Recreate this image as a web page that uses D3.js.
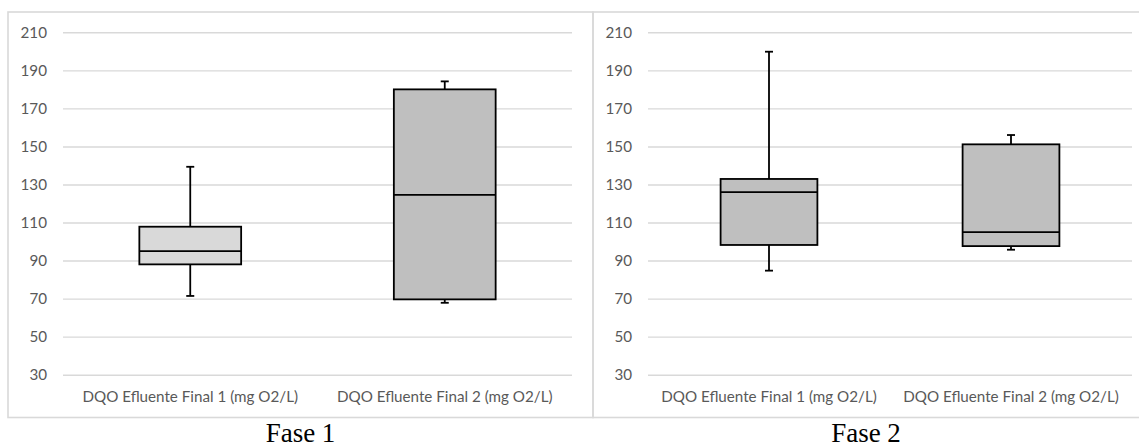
<!DOCTYPE html>
<html>
<head>
<meta charset="utf-8">
<script src="https://cdn.jsdelivr.net/npm/d3@7"></script>
<style>
  html, body { margin: 0; padding: 0; background: #fff; }
  svg { display: block; }
</style>
</head>
<body>
<svg id="chart" width="1139" height="447"></svg>
<script>
// ---- data ----
const categories = ["DQO Efluente Final 1 (mg O2/L)", "DQO Efluente Final 2 (mg O2/L)"];
const panelTitles = ["Fase 1", "Fase 2"];
const yTicks = [30, 50, 70, 90, 110, 130, 150, 170, 190, 210];

const fase1Min    = [71.4, 67.8];
const fase1Q1     = [88.0, 69.6];
const fase1Median = [95.0, 124.5];
const fase1Q3     = [107.8, 180.0];
const fase1Max    = [139.3, 184.2];

const fase2Min    = [84.7, 95.7];
const fase2Q1     = [98.2, 97.6];
const fase2Median = [126.0, 105.0];
const fase2Q3     = [132.9, 151.1];
const fase2Max    = [199.8, 156.0];

// ---- build ----
(function () {
const panels = [
  { title: panelTitles[0], min: fase1Min, q1: fase1Q1, med: fase1Median, q3: fase1Q3, max: fase1Max,
    frame: [8, 593], plot: [63, 572], fills: ["#d9d9d9", "#bfbfbf"], capX: 300.5 },
  { title: panelTitles[1], min: fase2Min, q1: fase2Q1, med: fase2Median, q3: fase2Q3, max: fase2Max,
    frame: [593, 1160], plot: [648, 1132], fills: ["#bfbfbf", "#bfbfbf"], capX: 866 }
];

const svg = d3.select("#chart");
const y = d3.scaleLinear().domain([30, 210]).range([374.7, 32.3]);
const frameTop = 12, frameBottom = 417.5;

panels.forEach((p) => {
  const g = svg.append("g");
  g.append("rect")
    .attr("x", p.frame[0]).attr("y", frameTop)
    .attr("width", p.frame[1] - p.frame[0]).attr("height", frameBottom - frameTop)
    .attr("fill", "none").attr("stroke", "#d9d9d9").attr("stroke-width", 1.6);

  const x = d3.scaleBand().domain(categories).range(p.plot).paddingInner(0).paddingOuter(0);

  const yAxis = d3.axisLeft(y).tickValues(yTicks).tickSize(-(p.plot[1] - p.plot[0])).tickPadding(16);
  const ya = g.append("g").attr("transform", `translate(${p.plot[0]},0)`).call(yAxis);
  ya.select(".domain").remove();
  ya.selectAll(".tick line").attr("stroke", "#d9d9d9").attr("stroke-width", 1.4);
  ya.selectAll(".tick text")
    .attr("fill", "#595959")
    .style("font-family", "Lato, 'Open Sans', sans-serif")
    .style("font-size", "15.2px");

  const xAxis = d3.axisBottom(x).tickSize(0).tickPadding(0);
  const xa = g.append("g").attr("transform", `translate(0,${y(30)})`).call(xAxis);
  xa.select(".domain").remove();
  xa.selectAll(".tick text")
    .attr("y", 27.5).attr("dy", 0)
    .attr("fill", "#595959")
    .style("font-family", "Lato, 'Open Sans', sans-serif")
    .style("font-size", "15.2px");

  const bw = x.bandwidth() * 0.4;
  const cap = 8;
  categories.forEach((c, i) => {
    const cx = x(c) + x.bandwidth() / 2;
    const bg = g.append("g");
    bg.append("line").attr("x1", cx).attr("x2", cx)
      .attr("y1", y(p.max[i])).attr("y2", y(p.q3[i]))
      .attr("stroke", "#000").attr("stroke-width", 1.8);
    bg.append("line").attr("x1", cx).attr("x2", cx)
      .attr("y1", y(p.q1[i])).attr("y2", y(p.min[i]))
      .attr("stroke", "#000").attr("stroke-width", 1.8);
    bg.append("line").attr("x1", cx - cap / 2).attr("x2", cx + cap / 2)
      .attr("y1", y(p.max[i])).attr("y2", y(p.max[i]))
      .attr("stroke", "#000").attr("stroke-width", 1.8);
    bg.append("line").attr("x1", cx - cap / 2).attr("x2", cx + cap / 2)
      .attr("y1", y(p.min[i])).attr("y2", y(p.min[i]))
      .attr("stroke", "#000").attr("stroke-width", 1.8);
    bg.append("rect")
      .attr("x", cx - bw / 2).attr("width", bw)
      .attr("y", y(p.q3[i])).attr("height", y(p.q1[i]) - y(p.q3[i]))
      .attr("fill", p.fills[i]).attr("stroke", "#000").attr("stroke-width", 1.8);
    bg.append("line").attr("x1", cx - bw / 2).attr("x2", cx + bw / 2)
      .attr("y1", y(p.med[i])).attr("y2", y(p.med[i]))
      .attr("stroke", "#000").attr("stroke-width", 1.8);
  });

  svg.append("text")
    .attr("x", p.capX).attr("y", 442)
    .attr("text-anchor", "middle")
    .attr("fill", "#000")
    .style("font-family", "'Liberation Serif', 'Times New Roman', serif")
    .style("font-size", "27px")
    .text(p.title);
});
})();
</script>
</body>
</html>
